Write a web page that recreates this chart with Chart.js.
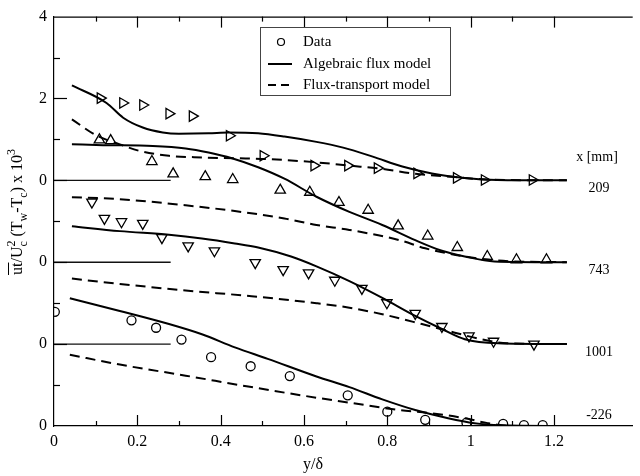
<!DOCTYPE html>
<html>
<head>
<meta charset="utf-8">
<script src="https://cdn.jsdelivr.net/npm/chart.js@4"></script>
<style>
  html, body { margin: 0; padding: 0; background: #fff; }
  #wrap { width: 640px; height: 476px; }
</style>
</head>
<body>
<div id="wrap"><canvas id="chart"></canvas></div>
<script>
// stations (x [mm]) and the vertical offset each profile is shifted by
const stations = ['209', '743', '1001', '-226'];
const offsets = [6, 4, 2, 0];

// x = 209 mm
const data209X = [0.111, 0.165, 0.213, 0.276, 0.332, 0.421, 0.502, 0.624, 0.705, 0.776, 0.871, 0.966, 1.033, 1.148];
const data209Y = [2.01, 1.89, 1.84, 1.63, 1.57, 1.09, 0.60, 0.36, 0.36, 0.30, 0.17, 0.06, 0.01, 0.01];
const alg209X = [0.043, 0.126, 0.166, 0.213, 0.261, 0.300, 0.371, 0.419, 0.490, 0.553, 0.630, 0.694, 0.765, 0.836, 0.907, 0.986, 1.064, 1.231];
const alg209Y = [2.32, 1.89, 1.53, 1.29, 1.17, 1.14, 1.15, 1.17, 1.15, 1.07, 0.94, 0.80, 0.58, 0.34, 0.17, 0.06, 0.01, 0];
const ft209X = [0.043, 0.103, 0.158, 0.205, 0.276, 0.355, 0.434, 0.513, 0.630, 0.709, 0.788, 0.867, 0.962, 1.041, 1.231];
const ft209Y = [1.49, 1.09, 0.88, 0.72, 0.60, 0.56, 0.54, 0.52, 0.44, 0.36, 0.28, 0.16, 0.08, 0.02, 0];

// x = 743 mm
const data743X = [0.109, 0.136, 0.235, 0.286, 0.363, 0.429, 0.543, 0.614, 0.684, 0.754, 0.826, 0.897, 0.968, 1.040, 1.110, 1.182];
const data743Y = [2.99, 2.97, 2.46, 2.16, 2.09, 2.02, 1.76, 1.71, 1.46, 1.27, 0.89, 0.64, 0.36, 0.14, 0.06, 0.06];
const alg743X = [0.043, 0.118, 0.237, 0.316, 0.371, 0.427, 0.490, 0.553, 0.630, 0.709, 0.788, 0.867, 0.931, 0.986, 1.057, 1.231];
const alg743Y = [2.88, 2.86, 2.84, 2.78, 2.68, 2.54, 2.32, 2.04, 1.60, 1.23, 0.91, 0.54, 0.28, 0.14, 0.02, 0];
const ft743X = [0.043, 0.158, 0.316, 0.434, 0.553, 0.630, 0.709, 0.829, 0.891, 0.986, 1.066, 1.231];
const ft743Y = [1.59, 1.54, 1.39, 1.25, 1.07, 0.91, 0.79, 0.54, 0.34, 0.14, 0.04, 0];

// x = 1001 mm
const data1001X = [0.091, 0.121, 0.162, 0.213, 0.259, 0.322, 0.385, 0.483, 0.550, 0.611, 0.674, 0.739, 0.799, 0.867, 0.931, 0.996, 1.055, 1.152];
const data1001Y = [3.47, 3.07, 2.99, 2.95, 2.60, 2.40, 2.28, 1.99, 1.82, 1.74, 1.56, 1.36, 1.01, 0.75, 0.43, 0.20, 0.07, 0];
const alg1001X = [0.043, 0.158, 0.276, 0.355, 0.434, 0.490, 0.569, 0.630, 0.709, 0.788, 0.867, 0.931, 0.986, 1.066, 1.231];
const alg1001Y = [2.88, 2.76, 2.67, 2.58, 2.46, 2.36, 2.14, 1.90, 1.54, 1.13, 0.69, 0.37, 0.12, 0.02, 0];
const ft1001X = [0.043, 0.158, 0.316, 0.474, 0.630, 0.709, 0.788, 0.883, 0.962, 1.025, 1.088, 1.231];
const ft1001Y = [1.60, 1.47, 1.31, 1.17, 1.00, 0.89, 0.73, 0.49, 0.28, 0.12, 0.02, 0];

// x = -226 mm
const dataM226X = [0.002, 0.186, 0.245, 0.306, 0.377, 0.472, 0.566, 0.705, 0.800, 0.891, 0.990, 1.078, 1.128, 1.173];
const dataM226Y = [2.79, 2.58, 2.40, 2.11, 1.68, 1.46, 1.22, 0.75, 0.35, 0.15, 0.08, 0.05, 0.02, 0.02];
const algM226X = [0.038, 0.158, 0.276, 0.355, 0.434, 0.513, 0.630, 0.709, 0.788, 0.867, 0.946, 1.009, 1.073, 1.231];
const algM226Y = [3.12, 2.81, 2.49, 2.24, 1.92, 1.64, 1.21, 0.95, 0.65, 0.39, 0.19, 0.07, 0.02, 0];
const ftM226X = [0.038, 0.158, 0.316, 0.474, 0.630, 0.709, 0.829, 0.907, 0.986, 1.041, 1.104, 1.231];
const ftM226Y = [1.74, 1.50, 1.23, 0.95, 0.69, 0.57, 0.39, 0.31, 0.19, 0.07, 0, 0];

// short reference zero lines at the left
const zeroLineX = [0, 0.28];

// axis ticks
const xTickValues = [0, 0.2, 0.4, 0.6, 0.8, 1.0, 1.2];
const yTickValues = [0, 2, 4, 6, 8, 10];
const yTickLabels = ['0', '0', '0', '0', '2', '4'];

const dataX = [data209X, data743X, data1001X, dataM226X];
const dataY = [data209Y, data743Y, data1001Y, dataM226Y];
const algX = [alg209X, alg743X, alg1001X, algM226X];
const algY = [alg209Y, alg743Y, alg1001Y, algM226Y];
const ftX = [ft209X, ft743X, ft1001X, ftM226X];
const ftY = [ft209Y, ft743Y, ft1001Y, ftM226Y];

const markerStyle = ['triangle', 'triangle', 'triangle', 'circle'];
const markerRotation = [90, 0, 180, 0];

const FONT = 'Liberation Serif';

function pts(xs, ys, off) {
    return xs.map((v, i) => ({ x: v, y: ys[i] + off }));
}

const datasets = [];
stations.forEach((s, i) => {
    const off = offsets[i];
    if (off > 0) {
        datasets.push({
            data: pts(zeroLineX, [0, 0], off),
            showLine: true, borderColor: '#111', borderWidth: 1.4,
            pointRadius: 0, order: 5
        });
    }
    datasets.push({
        label: 'Algebraic flux model ' + s,
        data: pts(algX[i], algY[i], off),
        showLine: true, borderColor: '#000', borderWidth: 2,
        pointRadius: 0, cubicInterpolationMode: 'monotone', order: 3
    });
    datasets.push({
        label: 'Flux-transport model ' + s,
        data: pts(ftX[i], ftY[i], off),
        showLine: true, borderColor: '#000', borderWidth: 2, borderDash: [10, 6],
        pointRadius: 0, cubicInterpolationMode: 'monotone', order: 2
    });
    datasets.push({
        label: 'Data ' + s,
        data: pts(dataX[i], dataY[i], off),
        showLine: false,
        pointStyle: markerStyle[i], rotation: markerRotation[i],
        pointRadius: i === 3 ? 4.5 : 6,
        pointBackgroundColor: 'rgba(255,255,255,0)',
        pointBorderColor: '#000', pointBorderWidth: 1.3, order: 1
    });
});

// ticks, frame, legend, annotations and the axis title
const decorPlugin = {
    id: 'decor',
    afterDraw(chart) {
        const { ctx, chartArea: a, scales: { x, y } } = chart;
        ctx.save();
        ctx.strokeStyle = '#000';
        ctx.lineWidth = 1.2;
        const seg = (x1, y1, x2, y2) => { ctx.beginPath(); ctx.moveTo(x1, y1); ctx.lineTo(x2, y2); ctx.stroke(); };

        seg(a.left, a.top + 0.5, a.right, a.top + 0.5);
        for (let k = 1; k <= 12; k++) {
            const px = Math.round(x.getPixelForValue(k / 10)) + 0.5;
            const len = k % 2 === 0 ? 11 : 5;
            seg(px, a.bottom, px, a.bottom - len);
            seg(px, a.top, px, a.top + len);
        }
        for (let k = 1; k <= 9; k++) {
            const py = Math.round(y.getPixelForValue(k)) + 0.5;
            const len = k % 2 === 0 ? 13 : 6;
            seg(a.left, py, a.left + len, py);
        }

        // legend
        ctx.lineWidth = 1;
        ctx.strokeStyle = '#444';
        ctx.strokeRect(260.5, 27.5, 190, 68);
        ctx.strokeStyle = '#000';
        ctx.fillStyle = '#000';
        ctx.font = '15px "' + FONT + '"';
        ctx.textBaseline = 'middle';
        ctx.textAlign = 'left';
        ctx.lineWidth = 1.2;
        ctx.beginPath(); ctx.arc(281, 42, 3.5, 0, Math.PI * 2); ctx.stroke();
        ctx.fillText('Data', 303, 42);
        ctx.lineWidth = 2;
        seg(268, 64, 292, 64);
        ctx.fillText('Algebraic flux model', 303, 64);
        ctx.setLineDash([8, 5]);
        seg(268, 85, 293, 85);
        ctx.setLineDash([]);
        ctx.fillText('Flux-transport model', 303, 85);

        // station labels
        ctx.textAlign = 'center';
        ctx.font = '14px "' + FONT + '"';
        ctx.fillText('x [mm]', 597, 157);
        stations.forEach((s, i) => {
            const py = y.getPixelForValue(offsets[i]) + (i === 3 ? -11 : 8);
            ctx.fillText(s, 599, py);
        });

        // x axis title
        ctx.font = '16px "' + FONT + '"';
        ctx.fillText('y/\u03b4', 313, 465);

        // y axis title with sub/superscripts
        ctx.translate(17, 212);
        ctx.rotate(-Math.PI / 2);
        const big = '16px "' + FONT + '"';
        const small = '12px "' + FONT + '"';
        const parts = [
            { t: 'ut', f: big, dy: 0, over: true },
            { t: '/U', f: big, dy: 0 },
            { t: 'c', f: small, dy: 5, stack: true },
            { t: '2', f: small, dy: -7 },
            { t: ' (T', f: big, dy: 0 },
            { t: 'w', f: small, dy: 5 },
            { t: '-T', f: big, dy: 0 },
            { t: 'c', f: small, dy: 5 },
            { t: ') x 10', f: big, dy: 0 },
            { t: '3', f: small, dy: -7 }
        ];
        let total = 0;
        parts.forEach(p => { ctx.font = p.f; p.w = p.stack ? 0 : ctx.measureText(p.t).width; total += p.w; });
        let cx = -total / 2;
        ctx.textAlign = 'left';
        ctx.textBaseline = 'alphabetic';
        ctx.lineWidth = 1;
        parts.forEach(p => {
            ctx.font = p.f;
            ctx.fillText(p.t, cx, 5 + p.dy);
            if (p.over) {
                const w = ctx.measureText(p.t).width;
                seg(cx, -8.5, cx + w, -8.5);
            }
            cx += p.w;
        });
        ctx.restore();
    }
};

new Chart(document.getElementById('chart'), {
    type: 'scatter',
    data: { datasets },
    options: {
        responsive: true,
        maintainAspectRatio: false,
        animation: false,
        layout: { padding: { top: 13, right: 0, left: 0, bottom: 0 } },
        plugins: { legend: { display: false }, tooltip: { enabled: false } },
        scales: {
            x: {
                type: 'linear', min: 0, max: 1.389,
                grid: { display: false, drawTicks: false },
                border: { display: true, color: '#000', width: 1.2 },
                afterBuildTicks: s => { s.ticks = xTickValues.map(v => ({ value: v })); },
                afterFit: s => { s.height = 50; },
                ticks: {
                    padding: 6, color: '#000', maxRotation: 0,
                    font: { family: FONT, size: 16 },
                    callback: v => String(Math.round(v * 10) / 10)
                }
            },
            y: {
                type: 'linear', min: 0, max: 10,
                grid: { display: false, drawTicks: false },
                border: { display: true, color: '#000', width: 1.2 },
                afterBuildTicks: s => { s.ticks = yTickValues.map(v => ({ value: v })); },
                afterFit: s => { s.width = 54; },
                ticks: {
                    padding: 7, color: '#000',
                    font: { family: FONT, size: 16 },
                    callback: v => yTickLabels[yTickValues.indexOf(v)]
                }
            }
        }
    },
    plugins: [decorPlugin]
});
</script>
</body>
</html>
